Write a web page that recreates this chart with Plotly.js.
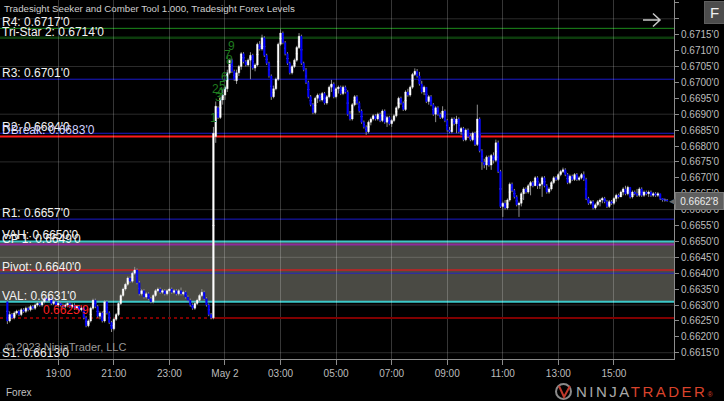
<!DOCTYPE html>
<html>
<head>
<meta charset="utf-8">
<script src="https://cdn.plot.ly/plotly-3.0.1.min.js"></script>
<style>html,body{margin:0;padding:0;background:#000;}#chart{width:724px;height:401px;}</style>
</head>
<body>
<div id="chart"></div>
<script>
// ---- AUD/USD 5-minute bars, 2023-05-01 17:10 -> 2023-05-02 16:55 (ET) ----
const barStartUTC = Date.UTC(2023, 4, 1, 17, 10);
const barMinutes = 5;

const openPx = [
.6631,.6625,.6627,.6626,.66275,.6628,.6627,.66285,.6628,.6629,
.66285,.66295,.6629,.663,.66305,.663,.6631,.6632,.66315,.6632,
.66305,.6631,.663,.66305,.663,.66295,.663,.66305,.66295,.663,
.6629,.66295,.66285,.6629,.6626,.66235,.6625,.6629,.66315,.66295,
.66265,.66275,.6625,.6631,.66275,.66245,.66225,.66255,.6627,.66305,
.6633,.6635,.66365,.66385,.66375,.664,.6641,.6637,.66335,.66345,
.66325,.66335,.6632,.6631,.6633,.66345,.6635,.6634,.66345,.66335,
.66345,.6635,.6634,.66345,.66335,.66345,.66335,.6634,.66325,.66315,
.663,.6629,.66305,.66315,.6633,.6634,.6632,.663,.6627,.6626,
.6683,.6692,.6689,.66945,.6696,.6698,.6703,.6707,.67035,.67005,
.6703,.6705,.6709,.67065,.67055,.6707,.67085,.67045,.67055,.6712,
.67105,.6714,.67085,.6706,.6702,.66955,.6698,.6701,.6712,.67155,
.67125,.6709,.6706,.6703,.6705,.6707,.6711,.67145,.6706,.6704,
.67,.66955,.6693,.66905,.6695,.6696,.66945,.66965,.66935,.66955,
.66985,.66995,.66955,.6698,.66985,.66965,.66985,.6697,.669,.66885,
.6693,.66955,.66935,.6691,.66875,.6686,.66845,.66875,.66885,.66895,
.66885,.669,.6688,.6691,.66875,.6689,.6687,.6688,.66895,.6692,
.6695,.66935,.66915,.6697,.6696,.66985,.67025,.67035,.6702,.66995,
.6697,.66985,.6694,.66955,.6693,.669,.6692,.669,.6689,.6691,
.6688,.6685,.66845,.66885,.6687,.66885,.66845,.66855,.6682,.6685,
.6683,.6682,.6684,.66805,.66885,.66785,.6675,.6674,.66765,.6674,
.6677,.66755,.6681,.6672,.6661,.6662,.66605,.6663,.6668,.6666,
.6664,.66615,.6662,.6665,.66665,.66655,.66675,.66685,.66675,.667,
.66675,.6668,.667,.66675,.66655,.66665,.66685,.667,.66695,.6671,
.6672,.66725,.6671,.66685,.66705,.66695,.6671,.66695,.667,.6671,
.66695,.66635,.6662,.66625,.66605,.66615,.66625,.6663,.66635,.66625,
.6661,.66625,.6662,.66635,.66645,.6664,.66655,.66665,.6665,.6667,
.6664,.66655,.6665,.66645,.66665,.66645,.66655,.6665,.66655,.66645,
.6665,.66645,.6665,.66635,.6663,.6663];

const highPx = [
.66315,.6628,.66275,.6628,.66285,.66285,.6629,.6629,.66295,.66295,
.663,.663,.66305,.6631,.6631,.66315,.66325,.66325,.66325,.66325,
.66315,.66315,.6631,.6631,.66305,.66305,.6631,.6631,.66305,.66305,
.663,.663,.66295,.66295,.66265,.66255,.66295,.6632,.6632,.663,
.6628,.6628,.66315,.66315,.6628,.6625,.6626,.66275,.6631,.66335,
.66355,.6637,.6639,.6639,.66405,.6642,.66415,.66375,.6635,.6635,
.6634,.6634,.66325,.66335,.6635,.66355,.66355,.6635,.6635,.6635,
.66355,.66355,.6635,.6635,.6635,.66355,.66345,.66345,.6633,.6632,
.66305,.6631,.6632,.66335,.6635,.66345,.66325,.66305,.66275,.6686,
.6694,.66925,.66955,.6698,.6699,.6704,.67075,.67075,.6704,.6704,
.67055,.67095,.67095,.6707,.67075,.67095,.6709,.6706,.67125,.6713,
.6715,.67145,.6709,.67065,.67025,.6699,.67015,.67125,.67167,.6716,
.6713,.67095,.67065,.67055,.67075,.67115,.67155,.6715,.67065,.67045,
.67005,.6696,.66935,.66955,.66965,.66965,.6697,.6697,.6696,.6699,
.67008,.67,.66985,.6699,.6699,.6699,.6699,.66975,.6691,.66935,
.6696,.6696,.6694,.66915,.6688,.66865,.6688,.6689,.669,.669,
.66905,.66905,.66915,.66915,.66895,.66895,.66885,.669,.66925,.66955,
.66955,.6694,.66975,.6698,.6699,.6703,.67044,.67042,.67033,.67005,
.6699,.66985,.6696,.6696,.66935,.66925,.66925,.66905,.66925,.66915,
.66885,.6686,.6689,.6689,.66895,.6689,.6686,.6686,.66855,.66855,
.6684,.66845,.66845,.6693,.6689,.6679,.6676,.6677,.6677,.66775,
.6678,.6682,.66817,.66725,.66625,.6663,.66635,.66685,.66685,.66665,
.66645,.66625,.66655,.6667,.6667,.6668,.6669,.6669,.66705,.66705,
.66685,.66705,.66705,.6668,.6667,.6669,.66705,.66705,.66715,.66725,
.66732,.6673,.66715,.6671,.6671,.66715,.66715,.66705,.66715,.6672,
.667,.6664,.6663,.6663,.6662,.6663,.66635,.6664,.6664,.6663,
.6663,.6663,.6664,.6665,.6665,.6666,.6667,.66675,.66675,.6667,
.6666,.6666,.66665,.6667,.6667,.6666,.6666,.6666,.6666,.66655,
.66655,.66655,.6665,.66635,.66635,.66633];

const lowPx = [
.6624,.66245,.66255,.66255,.6627,.66265,.66265,.66275,.66275,.6628,
.6628,.66285,.66285,.66295,.66295,.66295,.66305,.6631,.6631,.663,
.663,.66295,.66295,.66295,.6629,.6629,.66295,.6629,.6629,.66285,
.66285,.6628,.6628,.66255,.6623,.6623,.66245,.66285,.6629,.6626,
.66255,.66245,.66245,.6627,.6624,.66215,.6622,.6625,.66265,.663,
.66325,.66345,.6636,.6637,.6637,.66395,.66365,.6633,.6633,.6632,
.6632,.66315,.66305,.66305,.66325,.6634,.66335,.66335,.6633,.6633,
.6634,.66335,.66335,.6633,.6633,.6633,.6633,.6632,.6631,.66295,
.66285,.66285,.663,.6631,.66325,.66315,.66295,.66265,.66255,.66255,
.6681,.66885,.66885,.6693,.66945,.6697,.67025,.6703,.67005,.66995,
.6702,.6704,.6706,.6705,.6705,.6701,.6704,.67035,.6705,.671,
.671,.6708,.67055,.67015,.66945,.6695,.66975,.67005,.67115,.6712,
.67085,.67055,.67025,.67025,.67045,.67065,.67105,.67055,.67035,.66995,
.6695,.66925,.669,.669,.66935,.6694,.6694,.6693,.6693,.6695,
.6697,.6695,.6695,.66965,.6696,.6696,.66965,.66895,.6688,.6688,
.66925,.6693,.66905,.6687,.66855,.66835,.6684,.66865,.6688,.6688,
.6688,.66875,.66875,.6687,.6686,.66865,.6686,.66875,.6689,.66915,
.6693,.6691,.6691,.66955,.66955,.6698,.6702,.67015,.6699,.66965,
.6696,.66935,.6693,.66925,.66895,.66875,.66895,.66885,.66885,.66875,
.66845,.6684,.6684,.66865,.6684,.6684,.66835,.66815,.66815,.66825,
.66815,.66815,.668,.668,.6678,.66725,.6673,.66725,.66735,.66725,
.66745,.6675,.66715,.66605,.66577,.666,.666,.66625,.66655,.66635,
.6661,.66577,.6661,.6663,.6665,.6665,.66645,.6667,.66675,.66665,
.66665,.6664,.6667,.6665,.6665,.6666,.6668,.6669,.6669,.66705,
.66715,.66705,.6668,.6668,.6669,.6669,.6669,.6669,.66695,.6669,
.6663,.66615,.66615,.666,.666,.6661,.6661,.6662,.6662,.66605,
.66605,.66615,.66615,.66625,.66635,.6664,.66645,.66645,.66645,.66635,
.66635,.66645,.6664,.6664,.6664,.6664,.66645,.6664,.6664,.6664,
.6664,.6664,.6663,.66625,.66625,.66625];

const closePx = [
.6625,.6627,.6626,.66275,.6628,.6627,.66285,.6628,.6629,.66285,
.66295,.6629,.663,.66305,.663,.6631,.6632,.66315,.6632,.66305,
.6631,.663,.66305,.663,.66295,.663,.66305,.66295,.663,.6629,
.66295,.66285,.6629,.6626,.66235,.6625,.6629,.66315,.66295,.66265,
.66275,.6625,.6631,.66275,.66245,.66225,.66255,.6627,.66305,.6633,
.6635,.66365,.66385,.66375,.664,.6641,.6637,.66335,.66345,.66325,
.66335,.6632,.6631,.6633,.66345,.6635,.6634,.66345,.66335,.66345,
.6635,.6634,.66345,.66335,.66345,.66335,.6634,.66325,.66315,.663,
.6629,.66305,.66315,.6633,.6634,.6632,.663,.6627,.6626,.6684,
.66925,.6689,.6695,.6696,.66985,.6703,.6707,.67035,.6701,.6703,
.6705,.6709,.67065,.67055,.6707,.67085,.67045,.67055,.6712,.67105,
.6714,.67085,.6706,.6702,.66955,.6698,.6701,.6712,.67155,.67125,
.6709,.6706,.6703,.6705,.6707,.6711,.67145,.6706,.6704,.67,
.66955,.6693,.66905,.6695,.6696,.66945,.66965,.66935,.66955,.66985,
.66995,.66955,.6698,.66985,.66965,.66985,.6697,.669,.66885,.6693,
.66955,.66935,.6691,.66875,.6686,.66845,.66875,.66885,.66895,.66885,
.669,.6688,.6691,.66875,.6689,.6687,.6688,.66895,.6692,.6695,
.66935,.66915,.6697,.6696,.66985,.67025,.67035,.6702,.66995,.6697,
.66985,.6694,.66955,.6693,.669,.6692,.669,.6689,.6691,.6688,
.6685,.66845,.66885,.6687,.66885,.66845,.66855,.6682,.6685,.6683,
.6682,.6684,.66805,.66885,.66785,.6675,.6674,.66765,.6674,.6677,
.66755,.6681,.6672,.6661,.6662,.66605,.6663,.6668,.6666,.6664,
.66615,.6662,.6665,.66665,.66655,.66675,.66685,.66675,.667,.66675,
.6668,.667,.66675,.66655,.66665,.66685,.667,.66695,.6671,.6672,
.66725,.6671,.66685,.66705,.66695,.6671,.66695,.667,.6671,.66695,
.66635,.6662,.66625,.66605,.66615,.66625,.6663,.66635,.66625,.6661,
.66625,.6662,.66635,.66645,.6664,.66655,.66665,.6665,.6667,.6664,
.66655,.6665,.66645,.66665,.66645,.66655,.6665,.66655,.66645,.6665,
.66645,.6665,.66635,.6663,.6663,.66628];

// Tradesight levels
const levelNames  = ['R4', 'Tri-Star 2', 'R3', 'R2', 'DBreak', 'R1', 'VAH', 'CP 1', 'POC', 'Pivot', 'VAL', 'S1'];
const levelValues = [0.6717, 0.6714, 0.6701, 0.6684, 0.6683, 0.6657, 0.6650, 0.6649, 0.6641, 0.6640, 0.6631, 0.6613];
const labelledLevels = ['R4', 'Tri-Star 2', 'R3', 'R2', 'DBreak', 'R1', 'VAH', 'CP 1', 'Pivot', 'VAL', 'S1'];
const valueAreaHigh = 0.6650, valueAreaLow = 0.6631;
const priorClose = 0.66259, priorCloseText = "0.6625'9";
const lastPriceText = "0.6662'8";
const jumpBar = 89;

// Tradesight setup count
const seqLabels = ['1', '2', '3', '4', '5', '6', '7', '8', '9'];
const seqBars   = [89, 90, 91, 92, 93, 94, 95, 96, 97];
const seqPrices = [0.66888, 0.66979, 0.66954, 0.66970, 0.66989, 0.67017, 0.67086, 0.67070, 0.67114];

// Axes
const xTickVals = ['2023-05-01 19:00', '2023-05-01 21:00', '2023-05-01 23:00', '2023-05-02 01:00', '2023-05-02 03:00',
                   '2023-05-02 05:00', '2023-05-02 07:00', '2023-05-02 09:00', '2023-05-02 11:00', '2023-05-02 13:00', '2023-05-02 15:00'];
const xTickText = ['19:00', '21:00', '23:00', 'May 2', '03:00', '05:00', '07:00', '09:00', '11:00', '13:00', '15:00'];
const yTickVals = [0.6615, 0.6620, 0.6625, 0.6630, 0.6635, 0.6640, 0.6645, 0.6650, 0.6655, 0.6660, 0.6665, 0.6670,
                   0.6675, 0.6680, 0.6685, 0.6690, 0.6695, 0.6700, 0.6705, 0.6710, 0.6715, 0.6720, 0.6725];
const yTickText = ["0.6615'0", "0.6620'0", "0.6625'0", "0.6630'0", "0.6635'0", "0.6640'0", "0.6645'0", "0.6650'0",
                   "0.6655'0", "0.6660'0", "0.6665'0", "0.6670'0", "0.6675'0", "0.6680'0", "0.6685'0", "0.6690'0",
                   "0.6695'0", "0.6700'0", "0.6705'0", "0.6710'0", "0.6715'0", "", ""];
const yGridVals = [0.6615, 0.6630, 0.6645, 0.6660, 0.6675, 0.6690, 0.6705, 0.6720];
const xRange = ['2023-05-01 16:54:05', '2023-05-02 17:09:47'];
const yRange = [0.661302, 0.672591];

// ---- styles ----
const FONT = 'Liberation Sans, Arial, sans-serif';
const levelStyle = {
  'R4': {color: '#1c8c1c', width: 1},
  'Tri-Star 2': {color: '#0c3c0c', width: 2.5},
  'R3': {color: '#1a1acc', width: 1},
  'R2': {color: '#1a1acc', width: 1},
  'DBreak': {color: '#ff1a1a', width: 2},
  'R1': {color: '#1a1acc', width: 1},
  'VAH': {color: '#3cc8c8', width: 2},
  'CP 1': {color: '#8e2a9c', width: 2},
  'POC': {color: '#a82a2a', width: 2},
  'Pivot': {color: '#2424c4', width: 1},
  'VAL': {color: '#3cc8c8', width: 2},
  'S1': {color: '#1a1acc', width: 1}
};
const labelColor = {'DBreak': '#d2d2ff'};

const W = 724, H = 401, ML = 0, MR = 50, MT = 0, MB = 42;
const PW = W - ML - MR, PH = H - MT - MB;
const px = x => (x - ML) / PW;          // pixel -> paper x
const py = y => (PH + MT - y) / PH;     // pixel -> paper y

const times = openPx.map((_, i) =>
  new Date(barStartUTC + i * barMinutes * 60000).toISOString().slice(0, 16).replace('T', ' '));
const bodyTop = openPx.map((o, i) => Math.max(o, closePx[i]));
const bodyBot = openPx.map((o, i) => Math.min(o, closePx[i]));
const bodyMid = openPx.map((o, i) => (o + closePx[i]) / 2);

const traces = [
  // wicks (grey), drawn first
  {type: 'candlestick', x: times, open: bodyMid, close: bodyMid, high: highPx, low: lowPx,
   increasing: {line: {color: '#8e8e8e', width: 1}, fillcolor: '#8e8e8e'},
   decreasing: {line: {color: '#8e8e8e', width: 1}, fillcolor: '#8e8e8e'},
   whiskerwidth: 0, hoverinfo: 'skip', showlegend: false},
  // bodies: white up, blue down
  {type: 'candlestick', x: times, open: openPx, close: closePx, high: bodyTop, low: bodyBot,
   increasing: {line: {color: '#ffffff', width: 0.4}, fillcolor: '#ffffff'},
   decreasing: {line: {color: '#0000ff', width: 0.4}, fillcolor: '#0000ff'},
   whiskerwidth: 0, hoverinfo: 'skip', showlegend: false}
];

const shapes = [];
shapes.push({type: 'rect', xref: 'paper', x0: 0, x1: 1, yref: 'y', y0: valueAreaLow, y1: valueAreaHigh,
             fillcolor: '#4a4a44', line: {width: 0}, layer: 'below'});
yGridVals.forEach(v => shapes.push({type: 'line', xref: 'paper', x0: 0, x1: 1, yref: 'y', y0: v, y1: v,
             line: {color: 'rgba(255,255,255,0.17)', width: 1}, layer: 'below'}));
levelNames.forEach((n, i) => {
  if (n === 'S1') return;
  shapes.push({type: 'line', xref: 'paper', x0: 0, x1: 1, yref: 'y', y0: levelValues[i], y1: levelValues[i],
               line: {color: levelStyle[n].color, width: levelStyle[n].width}, layer: 'between'});
});
shapes.push({type: 'line', xref: 'x', x0: xRange[0], x1: times[jumpBar], yref: 'y', y0: priorClose, y1: priorClose,
             line: {color: '#800000', width: 2, dash: 'dot'}, layer: 'between'});
shapes.push({type: 'line', xref: 'x', x0: times[jumpBar], x1: xRange[1], yref: 'y', y0: priorClose, y1: priorClose,
             line: {color: '#800000', width: 2}, layer: 'between'});
// arrow (top right)
shapes.push({type: 'path', xref: 'paper', yref: 'paper', layer: 'above',
  path: `M${px(643)},${py(20)} L${px(660)},${py(20)} M${px(653)},${py(13.5)} L${px(660)},${py(20)} L${px(653)},${py(26.5)}`,
  line: {color: '#c8c8c8', width: 1.5}});
// NinjaTrader logo mark
shapes.push({type: 'circle', xref: 'paper', yref: 'paper', x0: px(556), x1: px(571), y0: py(399), y1: py(384),
             line: {color: '#8a8a8a', width: 2}, layer: 'above'});
shapes.push({type: 'path', xref: 'paper', yref: 'paper', layer: 'above',
  path: `M${px(559)},${py(386)} L${px(564)},${py(397)} L${px(570)},${py(386)}`,
  line: {color: '#c0392b', width: 2}});

const lastClose = closePx[closePx.length - 1];
const annotations = [];
levelNames.forEach((n, i) => {
  if (!labelledLevels.includes(n)) return;
  annotations.push({xref: 'paper', x: 0, xanchor: 'left', yref: 'y', y: Math.max(levelValues[i], yRange[0] + 0.000005),
    yanchor: 'bottom', yshift: -3,
    text: `${n}: ${levelValues[i].toFixed(4)}'0`, showarrow: false,
    font: {family: FONT, size: 12, color: labelColor[n] || '#f2f2f2'}});
});
annotations.push({xref: 'paper', x: px(66), xanchor: 'center', yref: 'y', y: priorClose, yanchor: 'bottom', yshift: -1,
  text: priorCloseText, showarrow: false, font: {family: FONT, size: 12, color: '#ff2020'}});
seqLabels.forEach((s, k) => annotations.push({xref: 'x', x: times[seqBars[k]], yref: 'y', y: seqPrices[k],
  text: s, showarrow: false, font: {family: FONT, size: 12, color: '#1f7a1f'}}));
// last price marker: pointer + box
annotations.push({xref: 'paper', x: px(666.5), xanchor: 'left', yref: 'y', y: lastClose, yanchor: 'middle',
  text: '◀', showarrow: false, font: {family: 'DejaVu Sans', size: 13, color: '#6a6a6a'}});
annotations.push({xref: 'paper', x: px(675), xanchor: 'left', yref: 'y', y: lastClose, yanchor: 'middle',
  text: lastPriceText, showarrow: false, bgcolor: '#5e5e5e', bordercolor: '#7a7a7a', borderwidth: 1, borderpad: 1,
  width: 45, height: 14, align: 'center', font: {family: FONT, size: 10, color: '#ececec'}});
// "F" button
annotations.push({xref: 'paper', yref: 'paper', x: px(714), xanchor: 'center', y: py(12), yanchor: 'middle',
  text: 'F', showarrow: false, bgcolor: '#4c4c4c', bordercolor: '#5e5e5e', borderwidth: 1, width: 17, height: 19,
  font: {family: FONT, size: 15, color: '#f0f0f0'}});
annotations.push({xref: 'paper', yref: 'paper', x: px(3), xanchor: 'left', y: py(347), yanchor: 'middle',
  text: '© 2023 NinjaTrader, LLC', showarrow: false, font: {family: FONT, size: 11, color: '#9a9a9a'}});
annotations.push({xref: 'paper', yref: 'paper', x: px(4), xanchor: 'left', y: py(392), yanchor: 'middle',
  text: 'Forex', showarrow: false, font: {family: FONT, size: 10, color: '#c0c0c0'}});
annotations.push({xref: 'paper', yref: 'paper', x: px(574), xanchor: 'left', y: py(391), yanchor: 'middle',
  text: '<span style="letter-spacing:2.5px">NINJA<span style="fill:#d9432b">TRADER</span></span><span style="fill:#d9432b;font-size:7px">®</span>',
  showarrow: false, font: {family: FONT, size: 15, color: '#a8a8a8'}});

const layout = {
  width: W, height: H,
  margin: {l: ML, r: MR, t: MT, b: MB, pad: 0},
  paper_bgcolor: '#000000', plot_bgcolor: '#000000',
  title: {text: 'Tradesight Seeker and Comber Tool 1.000, Tradesight Forex Levels', xref: 'container', yref: 'container',
          x: 4 / W, xanchor: 'left', y: 1 - 9 / H, yanchor: 'middle', font: {family: FONT, size: 9.7, color: '#cfcfcf'}},
  showlegend: false, hovermode: false, dragmode: false,
  boxmode: 'overlay', boxgap: 0.28, boxgroupgap: 0,
  xaxis: {type: 'date', range: xRange, tickvals: xTickVals, ticktext: xTickText, showgrid: true,
          gridcolor: 'rgba(255,255,255,0.21)', gridwidth: 1, ticks: 'outside', ticklen: 5, tickcolor: '#8c8c8c',
          showline: true, linecolor: '#8c8c8c', linewidth: 1, zeroline: false, rangeslider: {visible: false},
          tickfont: {family: FONT, size: 10, color: '#bdbdbd'}, fixedrange: true},
  yaxis: {side: 'right', range: yRange, tickvals: yTickVals, ticktext: yTickText, showgrid: false,
          ticks: 'outside', ticklen: 4, tickcolor: '#8c8c8c', showline: true, linecolor: '#8c8c8c', linewidth: 1,
          zeroline: false, tickfont: {family: FONT, size: 10, color: '#bdbdbd'}, fixedrange: true},
  shapes: shapes, annotations: annotations
};

Plotly.newPlot('chart', traces, layout, {displayModeBar: false, staticPlot: true});
</script>
</body>
</html>
